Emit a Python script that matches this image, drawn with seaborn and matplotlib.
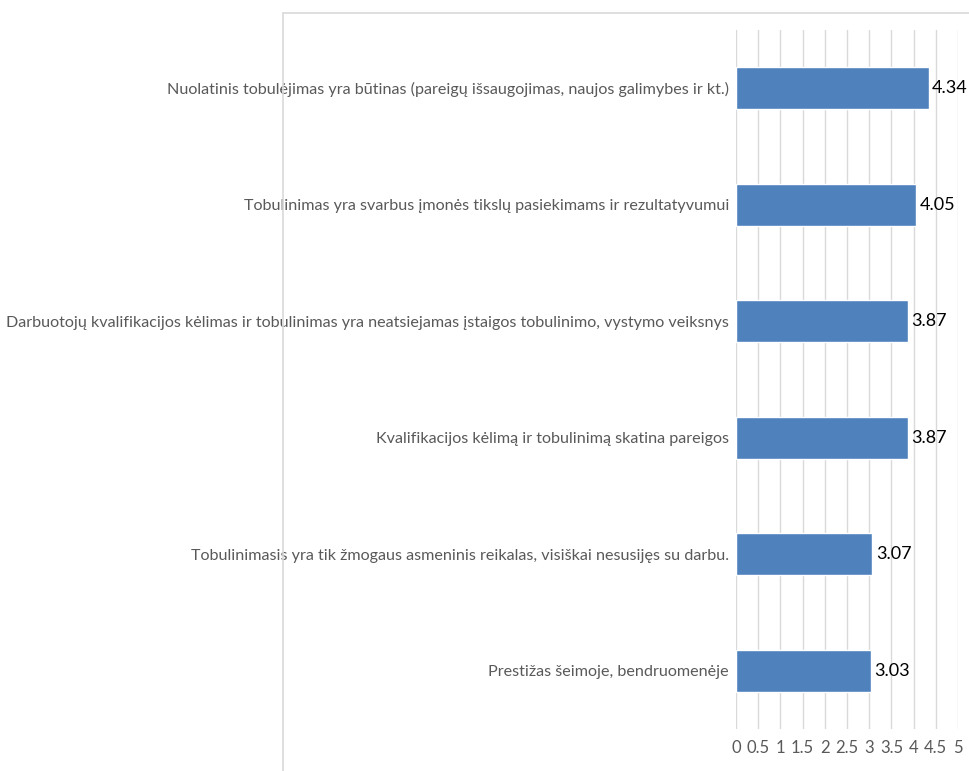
import matplotlib
matplotlib.use("Agg")
import matplotlib.pyplot as plt
import seaborn as sns
import pandas as pd
from matplotlib.lines import Line2D

categories = [
    "Nuolatinis tobulėjimas yra būtinas (pareigų išsaugojimas, naujos galimybes ir kt.)",
    "Tobulinimas yra svarbus įmonės tikslų pasiekimams ir rezultatyvumui",
    "Darbuotojų kvalifikacijos kėlimas ir tobulinimas yra neatsiejamas įstaigos tobulinimo, vystymo veiksnys",
    "Kvalifikacijos kėlimą ir tobulinimą skatina pareigos",
    "Tobulinimasis yra tik žmogaus asmeninis reikalas, visiškai nesusijęs su darbu.",
    "Prestižas šeimoje, bendruomenėje",
]
values = [4.34, 4.05, 3.87, 3.87, 3.07, 3.03]
xticks = [0, 0.5, 1, 1.5, 2, 2.5, 3, 3.5, 4, 4.5, 5]
xticklabels = ["0", "0.5", "1", "1.5", "2", "2.5", "3", "3.5", "4", "4.5", "5"]

df = pd.DataFrame({"cat": categories, "val": values})

sns.set_style("white")
plt.rcParams['font.family'] = ['Lato', 'DejaVu Sans']

fig = plt.figure(figsize=(9.69, 7.71), dpi=100)
ax = fig.add_axes([736/969, 1-729/771, (958-736)/969, (729-30)/771])

sns.barplot(data=df, x="val", y="cat", orient="h", color="#4F81BD",
            saturation=1, width=0.36, ax=ax, zorder=3)

ax.set_xlim(0, 5)
ax.set_xticks(xticks)
ax.set_xticklabels(xticklabels, fontsize=12, color="#595959")
ax.set_ylabel("")
ax.set_xlabel("")
ax.tick_params(axis="y", labelsize=11.6, labelcolor="#595959", length=0, pad=5)
ax.tick_params(axis="x", length=0, pad=8)
ax.grid(axis="x", color="#D9D9D9", linewidth=1, zorder=0)
ax.grid(axis="y", visible=False)
for s in ax.spines.values():
    s.set_visible(False)

for i, v in enumerate(values):
    ax.text(v + 0.08, i, f"{v:.2f}", va="center", ha="left", fontsize=13, color="black")

# frame lines of the chart area
fig.add_artist(Line2D([283/969, 1], [1-13/771, 1-13/771], color="#D9D9D9", lw=1.2))
fig.add_artist(Line2D([283/969, 283/969], [0, 1-13/771], color="#D9D9D9", lw=1.2))

fig.savefig("out.png", dpi=100)
